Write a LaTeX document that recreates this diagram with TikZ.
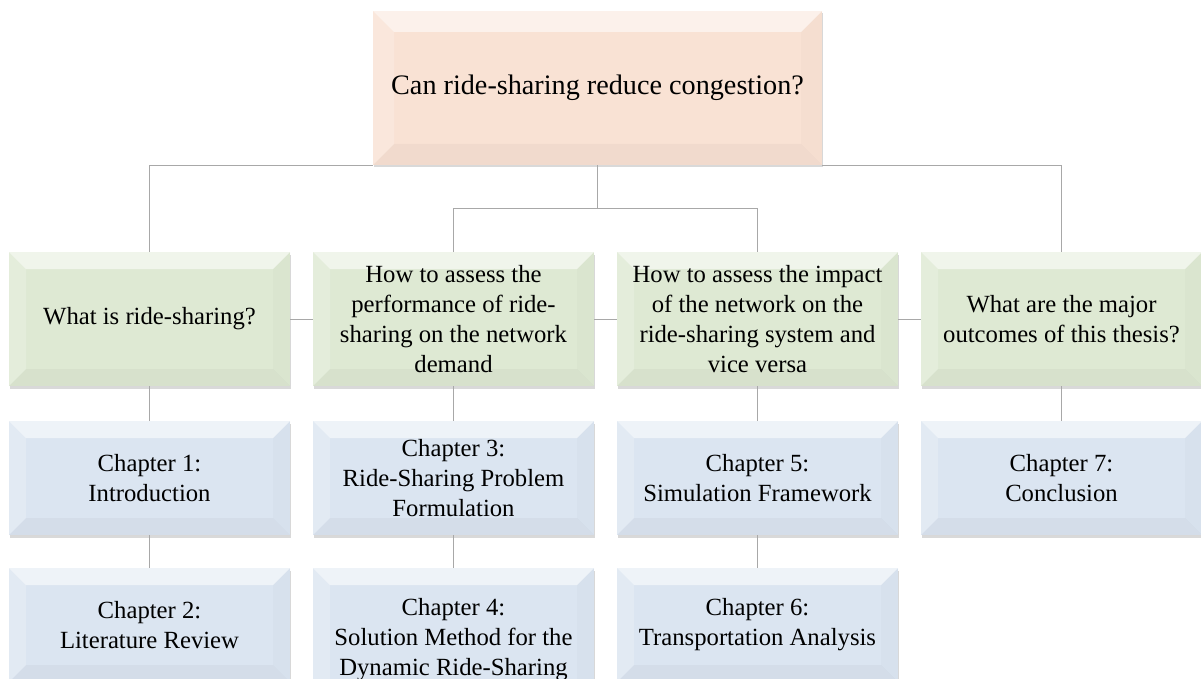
\documentclass[tikz,border=0pt]{standalone}
\usepackage{fontspec}
\setmainfont{Liberation Serif}
\usetikzlibrary{positioning, shadows}

\definecolor{peach}{RGB}{249,226,212}
\definecolor{sage}{RGB}{222,233,211}
\definecolor{steel}{RGB}{219,229,241}
\definecolor{wire}{RGB}{168,168,168}

\tikzset{
    bevel/.style={path picture={
        \fill[white, opacity=0.55] (path picture bounding box.north west) -- (path picture bounding box.north east)
            -- ([shift={(-#1,-#1)}]path picture bounding box.north east) -- ([shift={(#1,-#1)}]path picture bounding box.north west) -- cycle;
        \fill[white, opacity=0.2] (path picture bounding box.north west) -- ([shift={(#1,-#1)}]path picture bounding box.north west)
            -- ([shift={(#1,#1)}]path picture bounding box.south west) -- (path picture bounding box.south west) -- cycle;
        \fill[black, opacity=0.015] (path picture bounding box.north east) -- ([shift={(-#1,-#1)}]path picture bounding box.north east)
            -- ([shift={(-#1,#1)}]path picture bounding box.south east) -- (path picture bounding box.south east) -- cycle;
        \fill[black, opacity=0.03] (path picture bounding box.south west) -- ([shift={(#1,#1)}]path picture bounding box.south west)
            -- ([shift={(-#1,#1)}]path picture bounding box.south east) -- (path picture bounding box.south east) -- cycle;
    }},
    box/.style={rectangle, inner sep=4pt, align=center, bevel=17pt,
        font=\fontsize{24.7}{30}\selectfont,
        drop shadow={shadow xshift=0.6pt, shadow yshift=-2.5pt, opacity=0.3}},
    thesis/.style={box, fill=peach, minimum width=449pt, minimum height=154pt, bevel=21pt,
        font=\fontsize{28.2}{34}\selectfont},
    question/.style={box, fill=sage, minimum width=281pt, minimum height=134pt},
    chapter/.style={box, fill=steel, minimum width=281pt, minimum height=114pt},
    wire/.style={draw=wire, line width=0.8pt}
}

\begin{document}
\begin{tikzpicture}[x=1pt, y=-1pt, node distance=304pt, on grid]
    \useasboundingbox (0,0) rectangle (1201,679);
    \clip (0,0) rectangle (1201,679);

    \node[thesis] (top) at (597.5,88) {Can ride-sharing reduce congestion?};

    \node[question] (q1) at (149.5,319) {What is ride-sharing?};
    \node[question, right=of q1] (q2) {How to assess the\\ performance of ride-\\ sharing on the network\\ demand};
    \node[question, right=of q2] (q3) {How to assess the impact\\ of the network on the\\ ride-sharing system and\\ vice versa};
    \node[question, right=of q3] (q4) {What are the major\\ outcomes of this thesis?};

    \node[chapter, below=159pt of q1] (ch1) {Chapter 1:\\ Introduction};
    \node[chapter, below=159pt of q2] (ch3) {Chapter 3:\\ Ride-Sharing Problem\\ Formulation};
    \node[chapter, below=159pt of q3] (ch5) {Chapter 5:\\ Simulation Framework};
    \node[chapter, below=159pt of q4] (ch7) {Chapter 7:\\ Conclusion};

    \node[chapter, below=147pt of ch1] (ch2) {Chapter 2:\\ Literature Review};
    \node[chapter, minimum height=144pt, below=162pt of ch3] (ch4) {Chapter 4:\\ Solution Method for the\\ Dynamic Ride-Sharing};
    \node[chapter, below=147pt of ch5] (ch6) {Chapter 6:\\ Transportation Analysis};

    \draw[wire] (q1.north) |- (top.south west);
    \draw[wire] (top.south east) -| (q4.north);
    \draw[wire] (top.south) -- ++(0,43) coordinate (fork);
    \draw[wire] (q2.north) |- (fork) -| (q3.north);

    \draw[wire] (q1.east) -- (q2.west);
    \draw[wire] (q2.east) -- (q3.west);
    \draw[wire] (q3.east) -- (q4.west);

    \draw[wire] (q1.south) -- (ch1.north);
    \draw[wire] (q2.south) -- (ch3.north);
    \draw[wire] (q3.south) -- (ch5.north);
    \draw[wire] (q4.south) -- (ch7.north);
    \draw[wire] (ch1.south) -- (ch2.north);
    \draw[wire] (ch3.south) -- (ch4.north);
    \draw[wire] (ch5.south) -- (ch6.north);
\end{tikzpicture}
\end{document}
